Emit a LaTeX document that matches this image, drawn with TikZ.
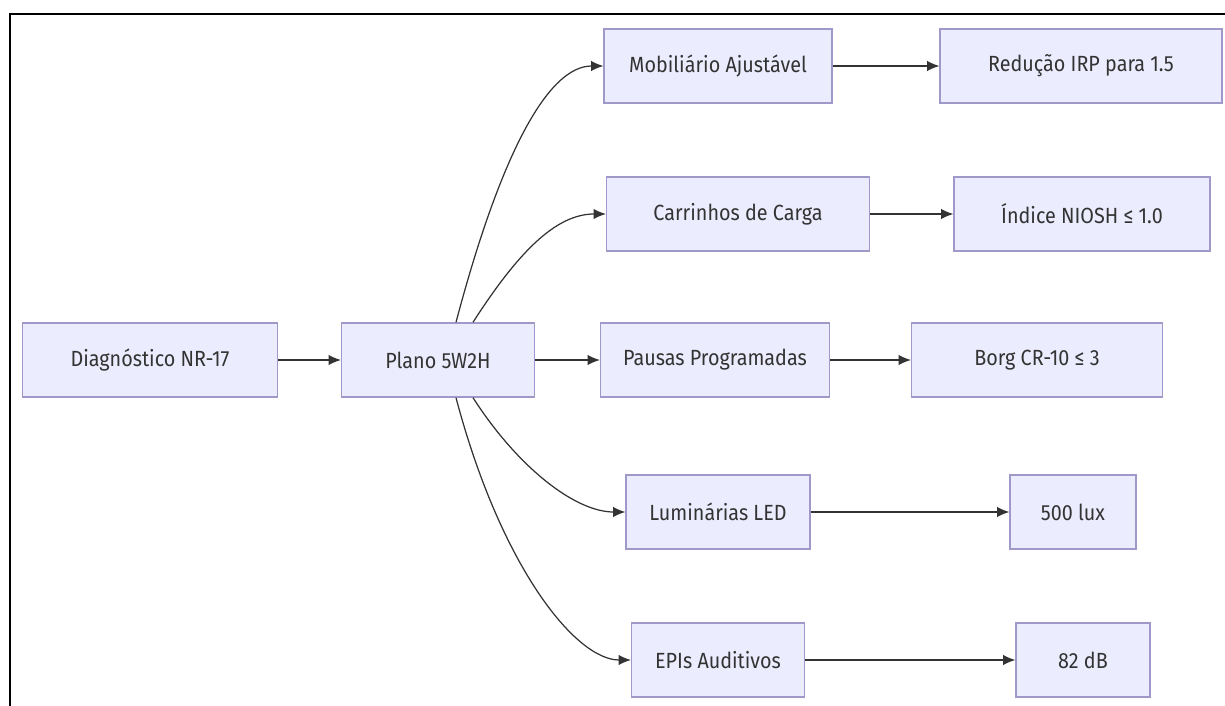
\documentclass[tikz,border=0pt]{standalone}
\usepackage{fontspec}
\setmainfont{Fira Sans}[FakeStretch=0.9]
\usetikzlibrary{calc}
\usetikzlibrary{arrows.meta}
\usepackage{xcolor}
\definecolor{boxfill}{HTML}{ECECFF}
\definecolor{boxline}{HTML}{9F98C8}
\definecolor{ink}{HTML}{333333}

\begin{document}
\begin{tikzpicture}[x=0.02cm, y=-0.02cm,
  box/.style={draw=boxline, fill=boxfill, line width=0.8pt, text=ink, font=\fontsize{12.5}{15}\selectfont, minimum height=1.48cm, inner sep=0pt},
  arr/.style={draw=ink, line width=0.7pt, -{Latex[length=7pt,width=6pt]}}]
\useasboundingbox (0,0) rectangle (1225,706);
% frame
\draw[black, line width=1.7pt] (10,706)--(10,14)--(1225,14);
% nodes
\node[box, minimum width=5.1cm]  (diag) at (150,360)  {Diagnóstico NR-17};
\node[box, minimum width=3.86cm] (plan) at (438,360)  {Plano 5W2H};
\node[box, minimum width=4.56cm] (mob)  at (718,66)   {Mobiliário Ajustável};
\node[box, minimum width=5.64cm] (irp)  at (1081,66)  {Redução IRP para 1.5};
\node[box, minimum width=5.26cm] (car)  at (738,214)  {Carrinhos de Carga};
\node[box, minimum width=5.12cm] (nio)  at (1082,214) {Índice NIOSH ≤ 1.0};
\node[box, minimum width=4.58cm] (pau)  at (715,360)  {Pausas Programadas};
\node[box, minimum width=5.02cm] (borg) at (1037,360) {Borg CR-10 ≤ 3};
\node[box, minimum width=3.68cm] (lum)  at (718,512)  {Luminárias LED};
\node[box, minimum width=2.52cm] (lux)  at (1073,512) {500 lux};
\node[box, minimum width=3.46cm] (epi)  at (718,660)  {EPIs Auditivos};
\node[box, minimum width=2.68cm] (db)   at (1083,660) {82 dB};
% connectors
\coordinate (pn1) at ($(plan.north)+(0.36cm,0)$);
\coordinate (pn2) at ($(plan.north)+(0.7cm,0)$);
\coordinate (ps1) at ($(plan.south)+(0.36cm,0)$);
\coordinate (ps2) at ($(plan.south)+(0.7cm,0)$);
\draw[arr] (diag) -- (plan);
\draw[arr] (plan) -- (pau);
\draw[arr] (pn1) .. controls +(0.9cm,3.4cm) and +(-1.1cm,0) .. (mob.west);
\draw[arr] (pn2) .. controls +(0.9cm,1.4cm) and +(-1.0cm,0) .. (car.west);
\draw[arr] (ps2) .. controls +(0.9cm,-1.4cm) and +(-1.0cm,0) .. (lum.west);
\draw[arr] (ps1) .. controls +(0.9cm,-3.4cm) and +(-1.1cm,0) .. (epi.west);
\draw[arr] (mob) -- (irp);
\draw[arr] (car) -- (nio);
\draw[arr] (pau) -- (borg);
\draw[arr] (lum) -- (lux);
\draw[arr] (epi) -- (db);
\end{tikzpicture}
\end{document}
